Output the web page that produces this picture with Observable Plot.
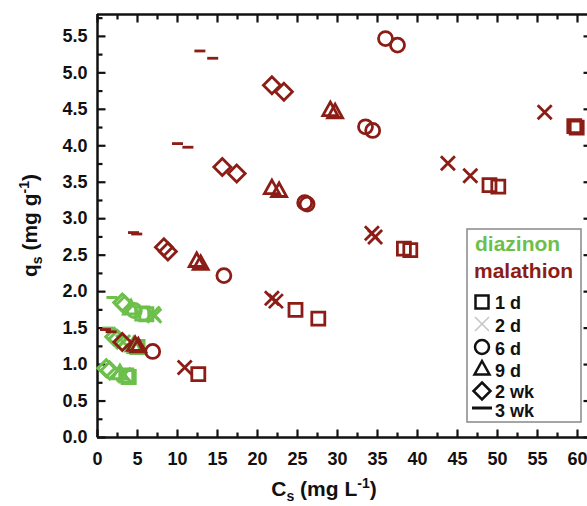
<!DOCTYPE html>
<html><head><meta charset="utf-8">
<script src="https://cdn.jsdelivr.net/npm/d3@7"></script>
<script src="https://cdn.jsdelivr.net/npm/@observablehq/plot@0.6"></script>
<style>
html,body{margin:0;padding:0;background:#fff;}
#chart{position:relative;width:587px;height:506px;}
</style></head><body><div id="chart"></div>
<script>
// ---- data ----
const timeLabels = ["1 d", "2 d", "6 d", "9 d", "2 wk", "3 wk"];
const seriesLabels = ["diazinon", "malathion"];
const seriesColors = ["#6cbf4b", "#8c1d16"];

const malTime = [
  "1 d","2 d","6 d","9 d","9 d","2 wk","3 wk","3 wk",
  "1 d","1 d","2 d","2 d","6 d","9 d","9 d","2 wk","2 wk","3 wk","3 wk",
  "1 d","1 d","2 d","2 d","6 d","6 d","9 d","9 d","2 wk","2 wk","3 wk","3 wk",
  "1 d","1 d","2 d","2 d","6 d","6 d","9 d","9 d","2 wk","2 wk","3 wk","3 wk",
  "1 d","1 d","2 d","6 d","6 d"
];
const malCs = [
  12.6,10.9,6.9,4.7,5.1,3.1,1.0,1.7,
  24.75,27.6,21.8,22.3,15.8,12.4,12.9,8.3,8.8,4.5,4.9,
  38.3,39.1,34.3,34.7,25.9,26.2,21.8,22.7,15.6,17.4,10.0,11.3,
  49.0,50.1,43.8,46.6,33.5,34.4,29.1,29.7,21.8,23.3,12.8,14.4,
  59.6,59.9,55.9,36.0,37.5
];
const malQs = [
  0.87,0.96,1.18,1.27,1.25,1.31,1.48,1.45,
  1.75,1.63,1.91,1.87,2.22,2.42,2.38,2.61,2.55,2.81,2.79,
  2.59,2.57,2.80,2.75,3.22,3.20,3.42,3.38,3.71,3.62,4.03,3.98,
  3.46,3.44,3.76,3.59,4.26,4.21,4.49,4.46,4.83,4.74,5.30,5.20,
  4.27,4.25,4.46,5.47,5.38
];

const diaTime = [
  "2 wk","2 wk","9 d","2 d","1 d","1 d",
  "3 wk","2 wk","2 wk","2 d","9 d","9 d","1 d",
  "3 wk","2 wk","2 wk","9 d","6 d","1 d","1 d","2 d","2 d"
];
const diaCs = [
  1.1,1.5,2.8,3.3,3.6,3.9,
  1.3,2.1,2.5,3.2,4.5,4.8,5.0,
  1.8,3.1,3.4,4.2,4.6,5.6,6.1,6.9,7.1
];
const diaQs = [
  0.95,0.92,0.88,0.86,0.85,0.83,
  1.50,1.38,1.35,1.31,1.26,1.24,1.24,
  1.92,1.85,1.82,1.77,1.74,1.70,1.69,1.70,1.67
];

const xDomain = [0, 61.25];
const yDomain = [0, 5.8];
const xTicks = [0,5,10,15,20,25,30,35,40,45,50,55,60];
const xMinor = [2.5,7.5,12.5,17.5,22.5,27.5,32.5,37.5,42.5,47.5,52.5,57.5];
const yTicks = [0,0.5,1,1.5,2,2.5,3,3.5,4,4.5,5,5.5];
const yMinor = [0.25,0.75,1.25,1.75,2.25,2.75,3.25,3.75,4.25,4.75,5.25,5.75];

// ---- rows ----
const diaRows = diaTime.map((t, i) => ({series: "diazinon", time: t, cs: diaCs[i], qs: diaQs[i]}));
const malRows = malTime.map((t, i) => ({series: "malathion", time: t, cs: malCs[i], qs: malQs[i]}));

// ---- symbols ----
const sym = f => ({draw(c) { f(c); }});
const symSquare = sym(c => {c.moveTo(-6.5,-6.5);c.lineTo(6.5,-6.5);c.lineTo(6.5,6.5);c.lineTo(-6.5,6.5);c.closePath();});
const symTimes = sym(c => {c.moveTo(-7,-7);c.lineTo(7,7);c.moveTo(7,-7);c.lineTo(-7,7);});
const symCircle = sym(c => {c.moveTo(7,0);c.arc(0,0,7,0,2*Math.PI);});
const symTriangle = sym(c => {c.moveTo(0,-8);c.lineTo(7.5,5.5);c.lineTo(-7.5,5.5);c.closePath();});
const symDiamond = sym(c => {c.moveTo(0,-8.5);c.lineTo(8.5,0);c.lineTo(0,8.5);c.lineTo(-8.5,0);c.closePath();});
const symDash = sym(c => {c.moveTo(-5.5,0);c.lineTo(5.5,0);});
const symList = [symSquare, symTimes, symCircle, symTriangle, symDiamond, symDash];
const tickSym = (dx, dy) => sym(c => {c.moveTo(0,0);c.lineTo(dx,dy);});

const tickOpts = {fill: "none", stroke: "#111", strokeWidth: 2.2};

const plot = Plot.plot({
  width: 587, height: 506,
  marginLeft: 97, marginRight: 0, marginTop: 14, marginBottom: 69,
  x: {domain: xDomain},
  y: {domain: yDomain},
  symbol: {domain: timeLabels, range: symList},
  color: {domain: seriesLabels, range: seriesColors},
  style: {fontFamily: "'Liberation Sans', Arial, sans-serif", fontSize: "18px", fontWeight: "bold", color: "#111", background: "#fff"},
  marks: [
    Plot.ruleY([yDomain[0]], {stroke: "#111", strokeWidth: 2.5}),
    Plot.ruleY([yDomain[1]], {stroke: "#111", strokeWidth: 2.5}),
    Plot.ruleX([xDomain[0]], {stroke: "#111", strokeWidth: 2.5}),
    Plot.dot(xTicks, {x: d => d, frameAnchor: "bottom", symbol: tickSym(0,-8), ...tickOpts}),
    Plot.dot(xMinor, {x: d => d, frameAnchor: "bottom", symbol: tickSym(0,-5), ...tickOpts}),
    Plot.dot(xTicks, {x: d => d, frameAnchor: "top", symbol: tickSym(0,8), ...tickOpts}),
    Plot.dot(xMinor, {x: d => d, frameAnchor: "top", symbol: tickSym(0,5), ...tickOpts}),
    Plot.dot(yTicks, {y: d => d, frameAnchor: "left", symbol: tickSym(8,0), ...tickOpts}),
    Plot.dot(yMinor, {y: d => d, frameAnchor: "left", symbol: tickSym(5,0), ...tickOpts}),
    Plot.dot(yTicks, {y: d => d, frameAnchor: "right", symbol: tickSym(-4,0), ...tickOpts}),
    Plot.axisX(xTicks, {tickSize: 0, tickPadding: 15, label: null, tickFormat: d => String(d)}),
    Plot.axisY(yTicks, {tickSize: 0, tickPadding: 10, label: null, tickFormat: d => d.toFixed(1)}),
    Plot.dot(diaRows, {x: "cs", y: "qs", symbol: "time", stroke: "series", fill: "none", strokeWidth: 3, ariaLabel: "diazinon-dots"}),
    Plot.dot(malRows, {x: "cs", y: "qs", symbol: "time", stroke: "series", fill: "none", strokeWidth: 2.8, ariaLabel: "malathion-dots"})
  ]
});
document.getElementById("chart").appendChild(plot);

const svg = d3.select(plot);
svg.select('g[aria-label="diazinon-dots"]').style("filter", "blur(0.5px)");

const xr = plot.scale("x").range, yr = plot.scale("y").range;
// axis titles
const xt = svg.append("text").attr("x", 324).attr("y", 496).attr("text-anchor", "middle")
  .style("font-size", "21px").style("font-weight", "bold").attr("fill", "#111");
xt.append("tspan").text("C");
xt.append("tspan").text("s").attr("font-size", "14px").attr("dy", 5);
xt.append("tspan").text(" (mg L").attr("dy", -5);
xt.append("tspan").text("-1").attr("font-size", "14px").attr("dy", -8);
xt.append("tspan").text(")").attr("dy", 8);

const yc = (yr[0] + yr[1]) / 2;
const yt = svg.append("text").attr("transform", `translate(37,${yc}) rotate(-90)`).attr("text-anchor", "middle")
  .style("font-size", "21px").style("font-weight", "bold").attr("fill", "#111");
yt.append("tspan").text("q");
yt.append("tspan").text("s").attr("font-size", "14px").attr("dy", 5);
yt.append("tspan").text(" (mg g").attr("dy", -5);
yt.append("tspan").text("-1").attr("font-size", "14px").attr("dy", -8);
yt.append("tspan").text(")").attr("dy", 8);

// legend
const lg = svg.append("g").attr("text-anchor", "start");
lg.append("rect").attr("x", 467).attr("y", 229).attr("width", 114).attr("height", 193)
  .attr("fill", "#fff").attr("stroke", "#888").attr("stroke-width", 1.5);
lg.append("text").attr("x", 475).attr("y", 251).attr("text-anchor", "start").text(seriesLabels[0]).attr("fill", seriesColors[0])
  .style("font-size", "21px").style("font-weight", "bold");
lg.append("text").attr("x", 474).attr("y", 278).attr("text-anchor", "start").text(seriesLabels[1]).attr("fill", seriesColors[1])
  .style("font-size", "21px").style("font-weight", "bold");
const entryY = [302, 324, 347, 369, 391, 408];
const textY = [309, 332, 355, 377, 398, 417];
const legSyms = [symSquare, symTimes, symCircle, symTriangle, symDiamond, sym(c => {c.moveTo(-10,0);c.lineTo(10,0);})];
timeLabels.forEach((t, i) => {
  lg.append("path").attr("transform", `translate(482,${entryY[i]})`)
    .attr("d", d3.symbol(legSyms[i], 64)())
    .attr("fill", "none")
    .attr("stroke", i === 1 ? "#c4c4c4" : "#111")
    .attr("stroke-width", i === 1 ? 1.5 : (i === 5 ? 3 : 2.5));
  lg.append("text").attr("x", 495).attr("y", textY[i]).attr("text-anchor", "start").text(t).attr("fill", "#111")
    .style("font-size", "18px").style("font-weight", "bold");
});
</script>
</body></html>
